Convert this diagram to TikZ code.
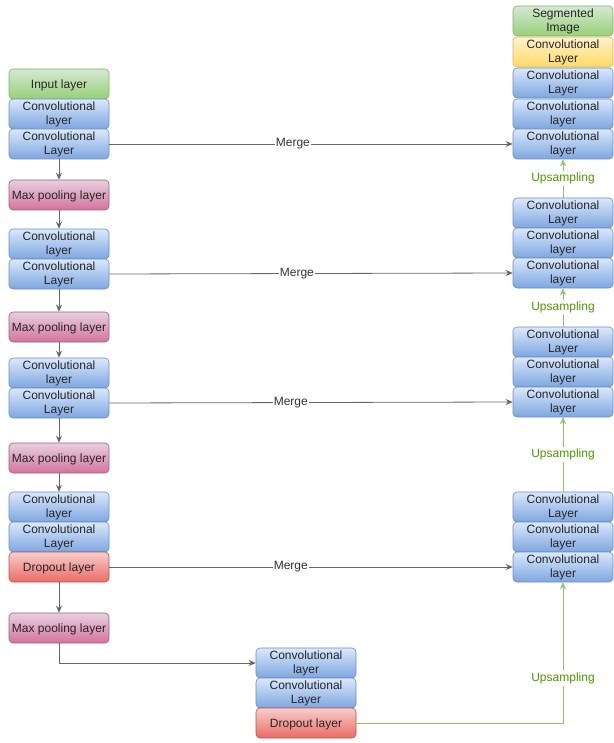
\documentclass[tikz,border=0pt]{standalone}
\usepackage{fontspec}
\setmainfont{Liberation Sans}
\usetikzlibrary{arrows.meta}
\definecolor{convtop}{HTML}{DAE8FC}
\definecolor{convbot}{HTML}{7EA6E0}
\definecolor{convedge}{HTML}{6C8EBF}
\definecolor{pooltop}{HTML}{E6D0DE}
\definecolor{poolbot}{HTML}{D5739D}
\definecolor{pooledge}{HTML}{996185}
\definecolor{droptop}{HTML}{F8CECC}
\definecolor{dropbot}{HTML}{EA6B66}
\definecolor{dropedge}{HTML}{B85450}
\definecolor{greentop}{HTML}{D5E8D4}
\definecolor{greenbot}{HTML}{97D077}
\definecolor{greenedge}{HTML}{82B366}
\definecolor{yellowtop}{HTML}{FFF2CC}
\definecolor{yellowbot}{HTML}{FFD966}
\definecolor{yellowedge}{HTML}{D6B656}
\definecolor{flowgray}{HTML}{666666}
\definecolor{upline}{HTML}{8CC46C}
\definecolor{uptext}{HTML}{4D9900}

\begin{document}
\begin{tikzpicture}[
    x=1pt, y=-1pt,
    >={Stealth[length=7pt,width=6pt]},
    every node/.style={font=\fontsize{12}{14}\selectfont},
    layer/.style={rounded corners=4pt, minimum width=100pt, minimum height=30pt,
                  inner sep=1pt, align=center, text=black!85, line width=0.6pt,
                  execute at begin node={\rule{0pt}{#1}}},
    layer/.default=11.5pt,
    conv/.style={layer=14.5pt, draw=convedge, top color=convtop, bottom color=convbot},
    pool/.style={layer, draw=pooledge, top color=pooltop, bottom color=poolbot},
    drop/.style={layer, draw=dropedge, top color=droptop, bottom color=dropbot},
    ioput/.style={layer=#1, draw=greenedge, top color=greentop, bottom color=greenbot},
    ioput/.default=11.5pt,
    final/.style={layer=14.5pt, draw=yellowedge, top color=yellowtop, bottom color=yellowbot},
    flow/.style={->, flowgray, line width=0.8pt},
    upflow/.style={->, upline, line width=0.8pt},
    mergelabel/.style={fill=white, text=black!80, inner sep=1pt},
    uplabel/.style={fill=white, text=uptext, inner sep=2pt},
]

\useasboundingbox (0,0) rectangle (613,743);

% --- Left: contracting path ---
\node[ioput] (inp) at (59,84) {Input layer};
\node[conv] (c1a) at (59,114) {Convolutional\\layer};
\node[conv] (c1b) at (59,144) {Convolutional\\Layer};
\node[pool] (mp1) at (59,195) {Max pooling layer};

\node[conv] (c2a) at (59,244) {Convolutional\\layer};
\node[conv] (c2b) at (59,274) {Convolutional\\Layer};
\node[pool] (mp2) at (59,327) {Max pooling layer};

\node[conv] (c3a) at (59,373) {Convolutional\\layer};
\node[conv] (c3b) at (59,403) {Convolutional\\Layer};
\node[pool] (mp3) at (59,458) {Max pooling layer};

\node[conv] (c4a) at (59,507) {Convolutional\\layer};
\node[conv] (c4b) at (59,537) {Convolutional\\Layer};
\node[drop] (do1) at (59,567) {Dropout layer};
\node[pool] (mp4) at (59,628) {Max pooling layer};

% --- Bottom: bridge ---
\node[conv] (c5a) at (306,663) {Convolutional\\layer};
\node[conv] (c5b) at (306,693) {Convolutional\\Layer};
\node[drop] (do2) at (306,723) {Dropout layer};

% --- Right: expanding path ---
\node[ioput=14.5pt] (seg) at (563,21) {Segmented\\Image};
\node[final] (cy) at (563,52) {Convolutional\\Layer};
\node[conv] (r1a) at (563,83) {Convolutional\\Layer};
\node[conv] (r1b) at (563,114) {Convolutional\\layer};
\node[conv] (r1c) at (563,144) {Convolutional\\layer};

\node[conv] (r2a) at (563,213) {Convolutional\\Layer};
\node[conv] (r2b) at (563,243) {Convolutional\\layer};
\node[conv] (r2c) at (563,273) {Convolutional\\layer};

\node[conv] (r3a) at (563,342) {Convolutional\\Layer};
\node[conv] (r3b) at (563,372) {Convolutional\\layer};
\node[conv] (r3c) at (563,402) {Convolutional\\layer};

\node[conv] (r4a) at (563,507) {Convolutional\\Layer};
\node[conv] (r4b) at (563,537) {Convolutional\\layer};
\node[conv] (r4c) at (563,567) {Convolutional\\layer};

% --- Arrows down the left ---
\draw[flow] (c1b) -- (mp1);
\draw[flow] (mp1) -- (c2a);
\draw[flow] (c2b) -- (mp2);
\draw[flow] (mp2) -- (c3a);
\draw[flow] (c3b) -- (mp3);
\draw[flow] (mp3) -- (c4a);
\draw[flow] (do1) -- (mp4);
\draw[flow] (mp4.south) |- (c5a.west);

% --- Merge connections ---
\draw[flow] (c1b.east) -- node[mergelabel, pos=0.455] {Merge} (r1c.west);
\draw[flow] (c2b.east) -- node[mergelabel, pos=0.465] {Merge} (r2c.west);
\draw[flow] (c3b.east) -- node[mergelabel, pos=0.45] {Merge} (r3c.west);
\draw[flow] (do1.east) -- node[mergelabel, pos=0.45] {Merge} (r4c.west);

% --- Upsampling ---
\draw[upflow] (do2.east) -| node[uplabel, pos=0.66] {Upsampling} (r4c.south);
\draw[upflow] (r4a.north) -- node[uplabel] {Upsampling} (r3c.south);
\draw[upflow] (r3a.north) -- node[uplabel] {Upsampling} (r2c.south);
\draw[upflow] (r2a.north) -- node[uplabel] {Upsampling} (r1c.south);

\end{tikzpicture}
\end{document}
